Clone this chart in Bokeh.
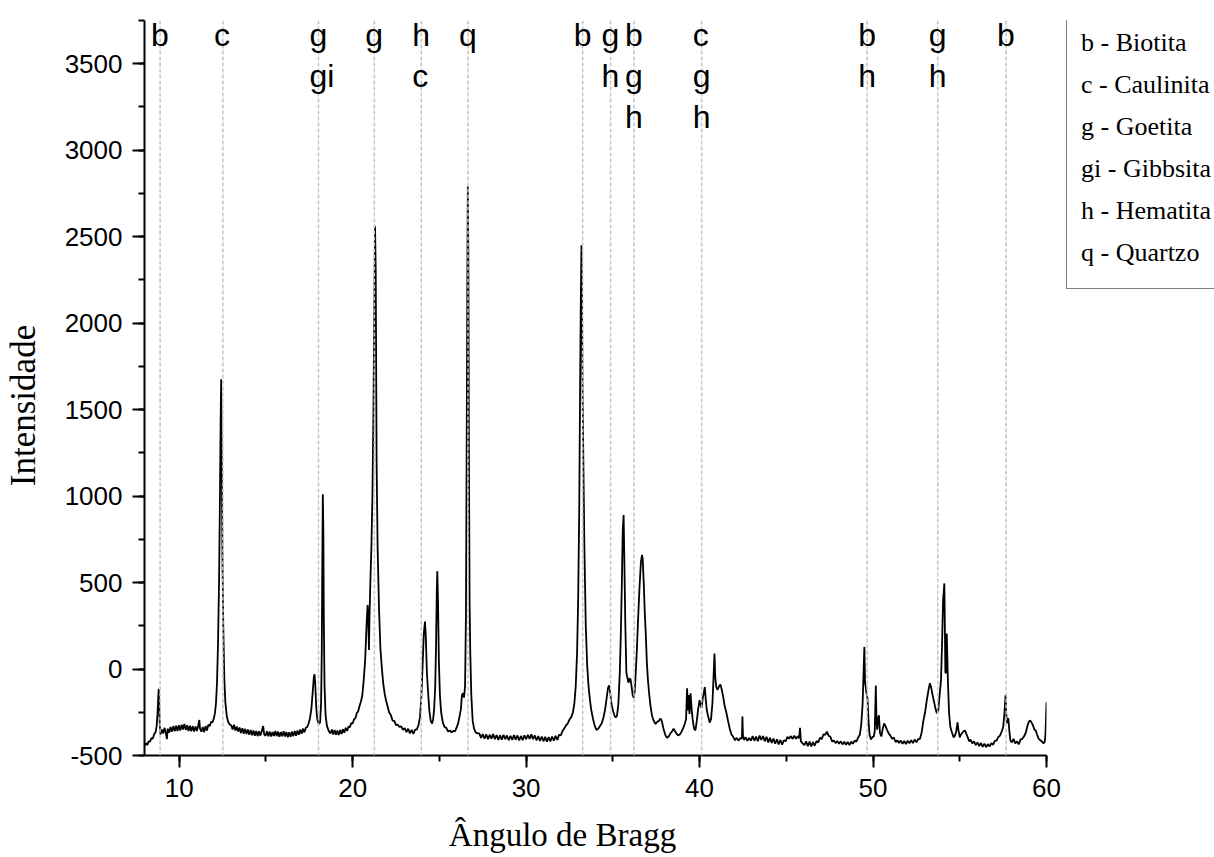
from bokeh.plotting import figure
from bokeh.layouts import row
from bokeh.models import (Range1d, SingleIntervalTicker, Span, LabelSet, PrintfTickFormatter,
                          ColumnDataSource, Legend, LegendItem)
from bokeh.core.properties import value
from bokeh.embed import file_html
from bokeh.resources import INLINE

# ---------------- data (2-theta, intensity) ----------------
seg_08_13 = [(8.00,-445),(8.08,-428),(8.16,-440),(8.24,-418),(8.32,-420),(8.40,-400),(8.48,-402),
    (8.56,-376),(8.64,-365),(8.70,-330),(8.75,-260),(8.79,-170),(8.82,-115),(8.85,-200),(8.88,-320),
    (8.92,-378),(9.00,-350),(9.08,-372),(9.16,-340),(9.24,-375),(9.29,-405),(9.34,-345),(9.42,-368),
    (9.50,-335),(9.58,-362),(9.66,-330),(9.74,-360),(9.82,-328),(9.90,-358),(9.98,-325),(10.06,-355),
    (10.14,-322),(10.22,-350),(10.30,-318),(10.38,-352),(10.46,-325),(10.54,-358),(10.62,-328),
    (10.70,-360),(10.78,-330),(10.86,-362),(10.94,-332),(11.02,-358),(11.10,-325),(11.16,-295),
    (11.20,-345),(11.28,-362),(11.36,-335),(11.44,-365),(11.52,-330),(11.60,-355),(11.68,-322),
    (11.76,-330),(11.84,-305),(11.92,-308),(12.00,-285),(12.06,-255),(12.12,-200),(12.18,-80),
    (12.24,150),(12.30,520),(12.35,1000),(12.39,1450),(12.42,1675),(12.45,1300),(12.49,700),
    (12.54,250),(12.60,-50),(12.66,-190),(12.74,-270),(12.82,-305),(12.90,-320)]

seg_13_21 = [(13.00,-325),(13.08,-350),(13.16,-322),(13.24,-356),(13.32,-332),(13.40,-362),
    (13.48,-338),(13.56,-370),(13.64,-342),(13.72,-374),(13.80,-346),(13.88,-376),(13.96,-350),
    (14.04,-380),(14.12,-352),(14.20,-383),(14.28,-355),(14.36,-386),(14.44,-358),(14.52,-388),
    (14.60,-360),(14.68,-385),(14.76,-358),(14.84,-330),(14.90,-378),(14.98,-386),(15.06,-360),
    (15.14,-388),(15.22,-362),(15.30,-390),(15.38,-364),(15.46,-387),(15.54,-358),(15.62,-388),
    (15.70,-362),(15.78,-392),(15.86,-364),(15.94,-388),(16.02,-360),(16.10,-390),(16.18,-364),
    (16.26,-394),(16.34,-366),(16.42,-392),(16.50,-362),(16.58,-388),(16.66,-358),(16.74,-386),
    (16.82,-355),(16.90,-380),(16.98,-350),(17.06,-374),(17.14,-345),(17.22,-366),(17.30,-340),
    (17.38,-335),(17.46,-315),(17.54,-285),(17.62,-230),(17.70,-130),(17.76,-50),(17.80,-30),
    (17.84,-80),(17.90,-220),(17.96,-290),(18.04,-318),(18.12,-310),(18.18,-200),(18.22,100),
    (18.25,600),(18.28,1010),(18.31,800),(18.34,250),(18.38,-100),(18.44,-270),(18.52,-330),
    (18.62,-358),(18.72,-372),(18.80,-350),(18.88,-378),(18.96,-352),(19.04,-380),(19.12,-355),
    (19.20,-382),(19.28,-352),(19.36,-376),(19.44,-348),(19.52,-368),(19.60,-340),(19.68,-358),
    (19.76,-332),(19.84,-336),(19.92,-312),(20.00,-315),(20.08,-290),(20.16,-284),(20.24,-254),
    (20.32,-244),(20.40,-212),(20.48,-188),(20.56,-150),(20.64,-60),(20.72,50),(20.80,250),
    (20.86,370),(20.90,300),(20.94,110),(20.97,300),(21.02,500),(21.08,700),(21.14,1000),
    (21.20,1500),(21.25,2100),(21.29,2560),(21.33,2300),(21.38,1200),(21.44,700),(21.52,350),
    (21.60,120),(21.68,10),(21.76,-80),(21.84,-140),(21.92,-180)]

seg_22_27 = [(22.00,-210),(22.10,-250),(22.20,-266),(22.30,-298),(22.40,-300),(22.50,-325),
    (22.60,-322),(22.70,-335),(22.80,-332),(22.90,-352),(23.00,-342),(23.10,-365),(23.20,-345),
    (23.30,-372),(23.40,-352),(23.50,-375),(23.60,-350),(23.70,-350),(23.80,-322),(23.88,-280),
    (23.96,-160),(24.04,40),(24.10,200),(24.17,275),(24.22,180),(24.28,-20),(24.34,-120),
    (24.42,-240),(24.50,-300),(24.58,-315),(24.64,-290),(24.70,-230),(24.76,-100),(24.81,150),
    (24.85,450),(24.88,565),(24.92,400),(24.97,50),(25.03,-150),(25.10,-250),(25.20,-310),
    (25.30,-335),(25.40,-340),(25.50,-362),(25.60,-355),(25.70,-366),(25.80,-358),(25.90,-360),
    (26.00,-336),(26.08,-314),(26.16,-276),(26.24,-232),(26.30,-150),(26.36,-140),(26.42,-165),
    (26.48,-100),(26.53,300),(26.57,1200),(26.61,2200),(26.64,2790),(26.67,2400),(26.70,1300),
    (26.74,400),(26.78,100),(26.84,-150),(26.92,-300),(27.00,-345),(27.10,-368),(27.20,-372)]

seg_27_34 = [(27.30,-372),(27.40,-398),(27.50,-376),(27.60,-403),(27.70,-378),(27.80,-405),
    (27.90,-380),(28.00,-402),(28.10,-376),(28.20,-406),(28.30,-382),(28.40,-410),(28.50,-384),
    (28.60,-408),(28.70,-380),(28.80,-406),(28.90,-384),(29.00,-412),(29.10,-386),(29.20,-410),
    (29.30,-382),(29.40,-408),(29.50,-384),(29.60,-413),(29.70,-387),(29.80,-411),(29.90,-383),
    (30.00,-406),(30.10,-380),(30.20,-404),(30.30,-378),(30.40,-406),(30.50,-384),(30.60,-412),
    (30.70,-388),(30.80,-416),(30.90,-390),(31.00,-418),(31.10,-392),(31.20,-420),(31.30,-394),
    (31.40,-418),(31.50,-390),(31.60,-414),(31.70,-386),(31.80,-410),(31.90,-380),(32.00,-384),
    (32.10,-358),(32.20,-344),(32.30,-326),(32.40,-314),(32.50,-292),(32.60,-278),(32.70,-250),
    (32.78,-200),(32.86,-100),(32.94,100),(33.00,400),(33.06,900),(33.11,1600),(33.15,2100),
    (33.19,2450),(33.22,2200),(33.25,1650),(33.30,1200),(33.36,700),(33.44,250),(33.52,20),
    (33.60,-100),(33.68,-180),(33.76,-240),(33.86,-290),(33.96,-330)]

seg_34_42 = [(34.06,-352),(34.16,-345),(34.26,-330),(34.36,-314),(34.46,-280),(34.56,-230),
    (34.64,-170),(34.72,-110),(34.78,-95),(34.84,-130),(34.92,-200),(35.00,-238),(35.08,-265),
    (35.16,-280),(35.24,-270),(35.32,-200),(35.40,-20),(35.46,200),(35.52,500),(35.57,800),
    (35.62,890),(35.66,650),(35.72,250),(35.78,-20),(35.84,-50),(35.90,-80),(35.96,-55),
    (36.02,-60),(36.08,-100),(36.14,-150),(36.20,-165),(36.26,-130),(36.32,-20),(36.38,100),
    (36.46,300),(36.54,480),(36.62,620),(36.68,660),(36.72,640),(36.78,500),(36.84,330),
    (36.90,200),(36.96,40),(37.02,-60),(37.10,-150),(37.18,-220),(37.26,-270),(37.36,-300),
    (37.46,-318),(37.56,-305),(37.66,-300),(37.74,-285),(37.82,-300),(37.92,-345),(38.02,-380),
    (38.12,-398),(38.22,-390),(38.32,-372),(38.42,-360),(38.50,-345),(38.58,-358),(38.66,-372),
    (38.76,-384),(38.86,-378),(38.96,-362),(39.06,-340),(39.14,-320),(39.22,-290),(39.28,-111),
    (39.32,-240),(39.37,-150),(39.42,-260),(39.48,-140),(39.54,-230),(39.60,-290),(39.68,-345),
    (39.76,-355),(39.84,-300),(39.92,-230),(40.00,-180),(40.06,-210),(40.12,-225),(40.18,-170),
    (40.24,-140),(40.30,-105),(40.36,-180),(40.42,-240),(40.50,-275),(40.58,-310),(40.66,-290),
    (40.74,-200),(40.80,-60),(40.86,90),(40.90,-40),(40.96,-105),(41.04,-120),(41.12,-100),
    (41.20,-90),(41.28,-120),(41.36,-160),(41.44,-210),(41.54,-250),(41.64,-300),(41.74,-345),
    (41.84,-378),(41.94,-392)]

seg_42_50 = [(42.04,-412),(42.14,-398),(42.24,-414),(42.34,-400),(42.44,-402),(42.47,-275),
    (42.50,-380),(42.56,-410),(42.66,-395),(42.76,-415),(42.86,-398),(42.96,-414),(43.06,-388),
    (43.16,-415),(43.26,-390),(43.36,-418),(43.46,-385),(43.56,-410),(43.66,-388),(43.76,-418),
    (43.86,-392),(43.96,-424),(44.06,-398),(44.16,-428),(44.26,-402),(44.36,-432),(44.46,-406),
    (44.56,-436),(44.66,-410),(44.76,-438),(44.86,-412),(44.96,-418),(45.06,-392),(45.16,-402),
    (45.26,-388),(45.36,-404),(45.46,-386),(45.56,-403),(45.66,-388),(45.74,-400),(45.79,-340),
    (45.84,-418),(45.94,-430),(46.04,-440),(46.14,-418),(46.24,-446),(46.34,-420),(46.44,-448),
    (46.54,-422),(46.64,-444),(46.74,-416),(46.84,-425),(46.94,-398),(47.04,-405),(47.14,-378),
    (47.24,-380),(47.34,-362),(47.44,-386),(47.54,-392),(47.64,-418),(47.74,-414),(47.84,-428),
    (47.94,-416),(48.04,-432),(48.14,-418),(48.24,-436),(48.34,-420),(48.44,-438),(48.54,-422),
    (48.64,-440),(48.74,-420),(48.84,-432),(48.94,-414),(49.04,-420),(49.14,-396),(49.24,-380),
    (49.32,-320),(49.40,-200),(49.46,0),(49.50,128),(49.54,-80),(49.58,-105),(49.62,-140),
    (49.68,-170),(49.74,-300),(49.80,-380),(49.88,-408),(49.96,-394)]

seg_50_60 = [(50.04,-390),(50.10,-360),(50.16,-95),(50.20,-300),(50.24,-350),(50.30,-280),
    (50.34,-268),(50.40,-370),(50.48,-390),(50.56,-345),(50.64,-315),(50.72,-330),(50.80,-350),
    (50.90,-372),(51.00,-385),(51.10,-404),(51.20,-396),(51.30,-422),(51.40,-412),(51.50,-428),
    (51.60,-414),(51.70,-432),(51.80,-416),(51.90,-434),(52.00,-414),(52.10,-430),(52.20,-412),
    (52.30,-428),(52.40,-408),(52.50,-424),(52.60,-406),(52.70,-404),(52.80,-368),(52.90,-300),
    (53.00,-250),(53.10,-180),(53.20,-120),(53.28,-82),(53.36,-110),(53.44,-155),(53.52,-190),
    (53.60,-230),(53.68,-256),(53.76,-240),(53.84,-150),(53.92,-60),(53.98,150),(54.04,400),
    (54.08,450),(54.11,495),(54.14,250),(54.17,-20),(54.20,-24),(54.23,100),(54.25,205),
    (54.28,80),(54.32,-80),(54.38,-250),(54.46,-337),(54.56,-370),(54.64,-395),(54.72,-385),
    (54.80,-360),(54.87,-308),(54.92,-350),(55.00,-395),(55.06,-380),(55.14,-370),(55.22,-360),
    (55.30,-355),(55.38,-375),(55.46,-395),(55.54,-418),(55.62,-408),(55.72,-430),(55.82,-418),
    (55.92,-440),(56.02,-424),(56.12,-446),(56.22,-428),(56.32,-450),(56.42,-432),(56.52,-452),
    (56.62,-434),(56.72,-448),(56.82,-428),(56.92,-438),(57.02,-416),(57.12,-414),(57.22,-394),
    (57.32,-385),(57.42,-360),(57.50,-337),(57.58,-250),(57.64,-150),(57.68,-260),(57.72,-314),
    (57.76,-290),(57.80,-285),(57.86,-360),(57.92,-413),(58.00,-424),(58.10,-404),(58.20,-430),
    (58.30,-418),(58.40,-436),(58.50,-408),(58.60,-404),(58.70,-390),(58.80,-370),(58.90,-330),
    (58.98,-305),(59.06,-297),(59.14,-310),(59.22,-325),(59.30,-350),(59.38,-355),(59.46,-380),
    (59.56,-405),(59.66,-413),(59.76,-422),(59.84,-430),(59.90,-420),(59.94,-380),(59.97,-290),
    (60.00,-192)]

# phase reference lines (2-theta) and their phase letters, top to bottom
ref_positions = [8.90, 12.52, 18.03, 21.25, 23.96, 26.65, 33.26, 34.87, 36.22, 40.12,
                 49.66, 53.73, 57.67]
ref_phases = [["b"], ["c"], ["g", "gi"], ["g"], ["h", "c"], ["q"], ["b"], ["g", "h"],
              ["b", "g", "h"], ["c", "g", "h"], ["b", "h"], ["g", "h"], ["b"]]

legend_labels = ["b - Biotita", "c - Caulinita", "g - Goetita", "gi - Gibbsita",
                 "h - Hematita", "q - Quartzo"]

x_ticks_interval = 10
y_ticks_interval = 500

# ---------------- build ----------------
segments = [seg_08_13, seg_13_21, seg_22_27, seg_27_34, seg_34_42, seg_42_50, seg_50_60]
two_theta = [pt[0] for seg in segments for pt in seg]
intensity = [pt[1] for seg in segments for pt in seg]

NBSP = "\u00a0"

p = figure(width=1066, height=857, output_backend="svg", toolbar_location=None,
           x_range=Range1d(8, 60), y_range=Range1d(-500, 3750),
           min_border_left=143, min_border_right=20, min_border_top=20,
           min_border_bottom=102)
p.outline_line_color = None
p.grid.visible = False
p.background_fill_color = "white"
p.border_fill_color = "white"

# reference lines
for xpos in ref_positions:
    p.add_layout(Span(location=xpos, dimension="height", line_color="#c4c4c4",
                      line_width=1.5, line_dash="4 2"))

# diffraction pattern
p.line(two_theta, intensity, line_color="black", line_width=1.8)

# phase letters
row_y = [3605, 3368, 3131]
lx, ly, lt = [], [], []
for xpos, letters in zip(ref_positions, ref_phases):
    for i, letter in enumerate(letters):
        lx.append(xpos)
        ly.append(row_y[i])
        lt.append(letter)
lab_src = ColumnDataSource(dict(x=lx, y=ly, text=lt))
p.add_layout(LabelSet(x="x", y="y", text="text", source=lab_src, x_offset=-9,
                      text_align="left", text_baseline="alphabetic",
                      text_font=value("Liberation Sans"), text_font_size=value("32px"),
                      text_color="black"))

# axes
for ax in (p.xaxis[0], p.yaxis[0]):
    ax.axis_line_width = 2
    ax.axis_line_color = "black"
    ax.major_tick_line_width = 2
    ax.minor_tick_line_width = 2
    ax.major_tick_line_color = "black"
    ax.minor_tick_line_color = "black"
    ax.major_tick_out = 12
    ax.major_tick_in = 0
    ax.minor_tick_out = 6
    ax.minor_tick_in = 0
    ax.major_label_text_font = "Liberation Sans"
    ax.major_label_text_font_size = "26px"
    ax.major_label_text_color = "black"
    ax.axis_label_text_font = "Liberation Serif"
    ax.axis_label_text_font_style = "normal"
    ax.axis_label_text_color = "black"
    ax.formatter = PrintfTickFormatter(format="%d")

p.xaxis[0].ticker = SingleIntervalTicker(interval=x_ticks_interval, num_minor_ticks=2)
p.yaxis[0].ticker = SingleIntervalTicker(interval=y_ticks_interval, num_minor_ticks=2)
p.xaxis[0].major_label_standoff = 11
p.yaxis[0].major_label_standoff = 10
p.xaxis[0].axis_label = "Ângulo de Bragg" + NBSP * 8
p.xaxis[0].axis_label_text_font_size = "33px"
p.xaxis[0].axis_label_standoff = 17
p.yaxis[0].axis_label = "Intensidade" + NBSP * 4
p.yaxis[0].axis_label_text_font_size = "35px"
p.yaxis[0].axis_label_standoff = 19

# key box (phase legend) in a narrow panel to the right of the plot
k = figure(width=148, height=857, output_backend="svg", toolbar_location=None,
           x_range=Range1d(0, 1), y_range=Range1d(0, 1),
           x_axis_location=None, y_axis_location=None, min_border=0)
k.outline_line_color = None
k.grid.visible = False
k.background_fill_color = "white"
k.border_fill_color = "white"
dummy = k.line(x=[], y=[], line_alpha=0)
legend = Legend(items=[LegendItem(label=t, renderers=[dummy]) for t in legend_labels],
                location=(0, 466), glyph_width=0, glyph_height=1, label_standoff=0,
                label_height=42, spacing=0, padding=14, margin=0,
                label_text_font="Liberation Serif", label_text_font_size="26px",
                label_text_color="black", border_line_color="black", border_line_width=1,
                background_fill_color="white", background_fill_alpha=1)
k.add_layout(legend, "center")

layout = row(p, k, spacing=0)
open("out.html", "w").write(file_html(layout, INLINE))
